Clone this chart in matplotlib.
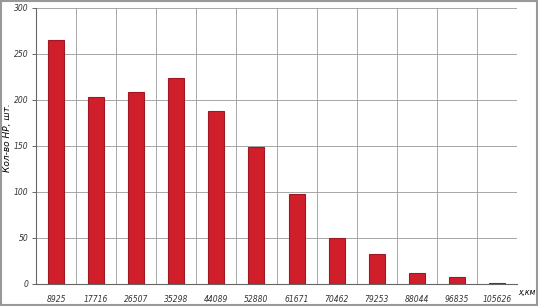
import matplotlib.pyplot as plt
import numpy as np

# ---------------- DATA ---------------- #
distances = ["8925", "17716", "26507", "35298", "44089", "52880",
             "61671", "70462", "79253", "88044", "96835", "105626"]
counts = [265, 203, 209, 224, 188, 149, 98, 50, 33, 12, 8, 1]

y_ticks = [0, 50, 100, 150, 200, 250, 300]

# ---------------- FIGURE ---------------- #
fig = plt.figure(figsize=(5.39, 3.06), dpi=100)
ax = fig.add_axes([0.067, 0.072, 0.892, 0.902])

x = np.arange(len(distances))
ax.bar(x, counts, width=0.4, color="#d01e2b", edgecolor="#a01822",
       linewidth=0.8, zorder=3)

ax.set_xlim(-0.5, len(distances) - 0.5)
ax.set_ylim(0, 300)
ax.set_yticks(y_ticks)
ax.set_yticklabels([str(v) for v in y_ticks], fontsize=5.5, fontstyle="italic",
                   color="#333333")
ax.set_xticks(x)
ax.set_xticklabels(distances, fontsize=5.5, fontstyle="italic", color="#333333")

# grid lines between categories, like an Excel chart
ax.set_xticks(np.arange(len(distances) + 1) - 0.5, minor=True)
ax.grid(True, which="minor", axis="x", color="#999999", linewidth=0.6, zorder=0)
ax.grid(True, which="major", axis="y", color="#999999", linewidth=0.6, zorder=0)
ax.tick_params(axis="x", which="both", length=0, pad=8)
ax.tick_params(axis="y", length=3, width=0.7, color="#666666", pad=2.5)

for side in ["top", "right"]:
    ax.spines[side].set_visible(False)
for side in ["left", "bottom"]:
    ax.spines[side].set_color("#666666")
    ax.spines[side].set_linewidth(0.8)

ax.set_ylabel("Кол-во НР, шт.", fontsize=6.5, fontstyle="italic")
ax.yaxis.set_label_coords(-0.051, 0.53)
fig.text(0.962, 0.035, "x,км", fontsize=5.5, fontstyle="italic")

# outer frame
fig.patches.append(plt.Rectangle((0.002, 0.003), 0.995, 0.993,
                                 transform=fig.transFigure, fill=False,
                                 edgecolor="#999999", linewidth=1.5))

fig.savefig("out.png", dpi=100)
